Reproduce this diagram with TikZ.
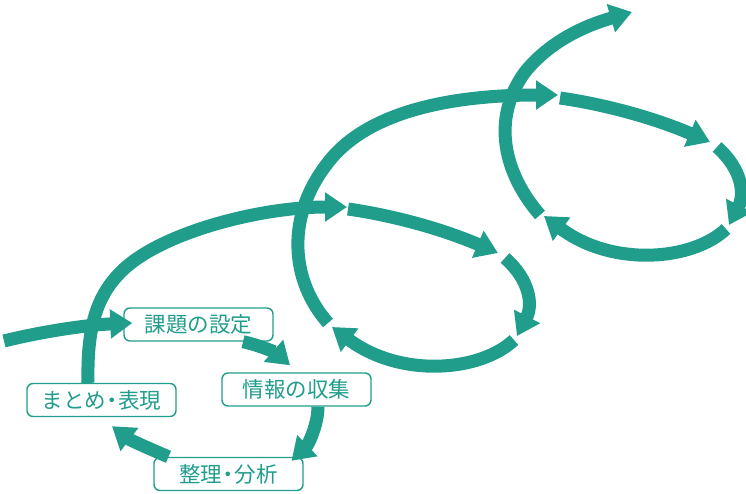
\documentclass[tikz,border=0pt]{standalone}
\usepackage{fontspec}
\newfontfamily\jpfont{Noto Sans CJK JP}
\usetikzlibrary{arrows.meta}
\definecolor{tealc}{HTML}{219D8C}
\newcommand{\ndot}{\kern-0.22em・\kern-0.22em}
\tikzset{
  flow/.style={line width=13bp, draw=tealc, -{Triangle[length=22bp,width=28bp]}},
  stepbox/.style={draw=tealc, line width=1.4bp, rounded corners=6bp, fill=white,
    minimum width=149bp, minimum height=33bp, inner sep=0pt,
    text=tealc, font=\jpfont\fontsize{21.5bp}{23bp}\selectfont}
}
\begin{document}
\begin{tikzpicture}[x=1bp,y=-1bp]
\useasboundingbox (0,0) rectangle (746,494);
% boxes
\node[stepbox] (k) at (198.5,324.5) {課題の設定};
\node[stepbox] (j) at (296.5,389.5) {情報の収集};
\node[stepbox] (s) at (228.5,474) {整理\ndot 分析};
\node[stepbox] (m) at (101.5,400) {まとめ\ndot 表現};
% loop 1
\coordinate (in) at (4,341);
\draw[flow] (in) .. controls (40,332) and (85,325) .. ([xshift=9bp,yshift=1.5bp]k.west);
\draw[flow] ([xshift=44.5bp]k.south) .. controls (262,346) and (276,353) .. ([xshift=-6.5bp,yshift=7bp]j.north);
\draw[flow] ([xshift=21.5bp]j.south) .. controls (318,425) and (308,445) .. ([xshift=63bp,yshift=-4bp]s.north);
\draw[flow] ([xshift=-60bp]s.north) .. controls (150,449) and (130,440) .. ([xshift=10.5bp,yshift=-9bp]m.south);
\draw[flow] ([xshift=-13.5bp]m.north) .. controls (87,330) and (95,295) .. (125,268) .. controls (165,232) and (260,207) .. (347,207);
% loop 2
\draw[flow] (348,209) .. controls (390,215) and (440,228) .. (498,253);
\draw[flow] (505,258) .. controls (530,280) and (533,305) .. (517,336);
\draw[flow] (514,340) .. controls (480,372) and (400,378) .. (332,327);
\draw[flow] (328,323) .. controls (290,280) and (285,215) .. (330,160) .. controls (375,105) and (470,95) .. (558,95);
% loop 3
\begin{scope}[shift={(212,-111)}]
\draw[flow] (348,209) .. controls (390,215) and (440,228) .. (498,253);
\draw[flow] (505,258) .. controls (530,280) and (533,305) .. (517,336);
\draw[flow] (514,340) .. controls (480,372) and (400,378) .. (332,327);
\end{scope}
\draw[flow] (540,215) .. controls (505,175) and (490,120) .. (525,72) .. controls (555,35) and (598,22) .. (632,12);
\end{tikzpicture}
\end{document}
